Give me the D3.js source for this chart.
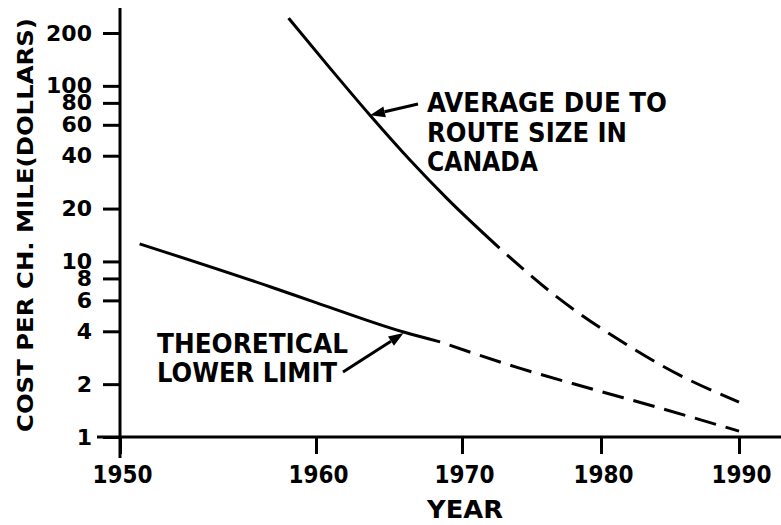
<!DOCTYPE html>
<html>
<head>
<meta charset="utf-8">
<script src="https://cdn.jsdelivr.net/npm/d3@7"></script>
<style>
  body { margin: 0; background: #fff; }
  text { font-family: "DejaVu Sans", sans-serif; fill: #000; }
</style>
</head>
<body>
<svg id="chart"></svg>
<script>
// values
var yearTicks = [1950, 1960, 1970, 1980, 1990];
var costTicks = [1, 2, 4, 6, 8, 10, 20, 40, 60, 80, 100, 200];

// average due to route size in Canada
var avgYearsSolid = [1958.6, 1961, 1963.7, 1966.5, 1969, 1972.7];
var avgCostSolid  = [243, 125, 68, 37.3, 22.7, 11.9];
var avgYearsDash  = [1972.7, 1976.8, 1981.1, 1985.7, 1990];
var avgCostDash   = [11.9, 6.3, 3.66, 2.25, 1.58];

// theoretical lower limit
var limYearsSolid = [1951, 1957.7, 1960, 1966, 1968.5];
var limCostSolid  = [12.6, 7.15, 5.83, 3.96, 3.48];
var limYearsDash  = [1968.5, 1973.9, 1979.1, 1984.3, 1990];
var limCostDash   = [3.48, 2.5, 1.9, 1.46, 1.08];

var width = 781, height = 525;

var svg = d3.select("#chart")
    .attr("width", width)
    .attr("height", height);

// the original year axis is drawn unevenly, so map each tick to its own spot
var x = d3.scaleLinear().domain(yearTicks).range([120, 316, 462, 601, 739]);
var y = d3.scaleLog().domain([1, 200]).range([437, 33]);

var line = d3.line()
    .x(function(d) { return x(d[0]); })
    .y(function(d) { return y(d[1]); })
    .curve(d3.curveMonotoneX);

function pairs(xs, ys) { return xs.map(function(v, i) { return [v, ys[i]]; }); }

// axes
var yAxis = svg.append("g")
    .attr("transform", "translate(120,0)")
    .call(d3.axisLeft(y).tickValues(costTicks).tickFormat(d3.format("d"))
          .tickSize(17).tickPadding(11).tickSizeOuter(0));
var xAxis = svg.append("g")
    .attr("transform", "translate(0,437)")
    .call(d3.axisBottom(x).tickValues(yearTicks).tickFormat(d3.format("d"))
          .tickSize(17).tickPadding(11).tickSizeOuter(0));

[yAxis, xAxis].forEach(function(g) {
  g.select(".domain").remove();
  g.selectAll(".tick line").attr("stroke", "#000").attr("stroke-width", 3);
  g.selectAll(".tick text")
    .attr("font-family", "DejaVu Sans")
    .attr("font-weight", "bold")
    .attr("fill", "#000");
});
yAxis.selectAll(".tick text").attr("font-size", 22);
xAxis.selectAll(".tick text")
    .attr("font-size", 25)
    .attr("dx", 2)
    .attr("textLength", 60)
    .attr("lengthAdjust", "spacingAndGlyphs");

// long axis lines
svg.append("line").attr("x1", 120).attr("x2", 120).attr("y1", 8).attr("y2", 458)
    .attr("stroke", "#000").attr("stroke-width", 3);
svg.append("line").attr("x1", 97).attr("x2", 781).attr("y1", 437).attr("y2", 437)
    .attr("stroke", "#000").attr("stroke-width", 3);

// axis titles
svg.append("text")
    .attr("transform", "translate(33,225) rotate(-90)")
    .attr("text-anchor", "middle")
    .attr("font-size", 22)
    .attr("font-weight", "bold")
    .attr("textLength", 414)
    .attr("lengthAdjust", "spacingAndGlyphs")
    .text("COST PER CH. MILE(DOLLARS)");
svg.append("text")
    .attr("x", 465).attr("y", 518)
    .attr("text-anchor", "middle")
    .attr("font-size", 25)
    .attr("font-weight", "bold")
    .attr("textLength", 76)
    .attr("lengthAdjust", "spacingAndGlyphs")
    .text("YEAR");

// curves
var curves = [
  [pairs(avgYearsSolid, avgCostSolid), null],
  [pairs(avgYearsDash, avgCostDash), "22,10"],
  [pairs(limYearsSolid, limCostSolid), null],
  [pairs(limYearsDash, limCostDash), "22,10"]
];
curves.forEach(function(c) {
  svg.append("path")
     .datum(c[0])
     .attr("d", line)
     .attr("fill", "none")
     .attr("stroke", "#000")
     .attr("stroke-width", 3)
     .attr("stroke-dasharray", c[1])
     .attr("stroke-dashoffset", c[1] ? 22 : null);
});

// arrows pointing at the curves
function arrow(x1, y1, x2, y2) {
  var a = Math.atan2(y2 - y1, x2 - x1), len = 15, hw = 5.5;
  var bx = x2 - len * Math.cos(a), by = y2 - len * Math.sin(a);
  svg.append("line").attr("x1", x1).attr("y1", y1).attr("x2", bx).attr("y2", by)
     .attr("stroke", "#000").attr("stroke-width", 3);
  svg.append("polygon")
     .attr("points", [
       [x2, y2],
       [bx + hw * Math.sin(a), by - hw * Math.cos(a)],
       [bx - hw * Math.sin(a), by + hw * Math.cos(a)]
     ].map(function(p) { return p.join(","); }).join(" "))
     .attr("fill", "#000");
}
arrow(418, 104, x(1963.7), y(68));
arrow(343, 372, x(1966), y(3.96) + 1);

// annotations: text, left x, baseline y, printed width
var note = svg.append("g")
    .attr("font-size", 26)
    .attr("font-weight", "bold");
[["AVERAGE DUE TO", 427, 112, 240], ["ROUTE SIZE IN", 427, 142, 200], ["CANADA", 427, 171, 111],
 ["THEORETICAL", 157, 353, 191], ["LOWER LIMIT", 157, 382, 180]].forEach(function(t) {
  note.append("text")
      .attr("x", t[1]).attr("y", t[2])
      .attr("textLength", t[3])
      .attr("lengthAdjust", "spacingAndGlyphs")
      .text(t[0]);
});
</script>
</body>
</html>
